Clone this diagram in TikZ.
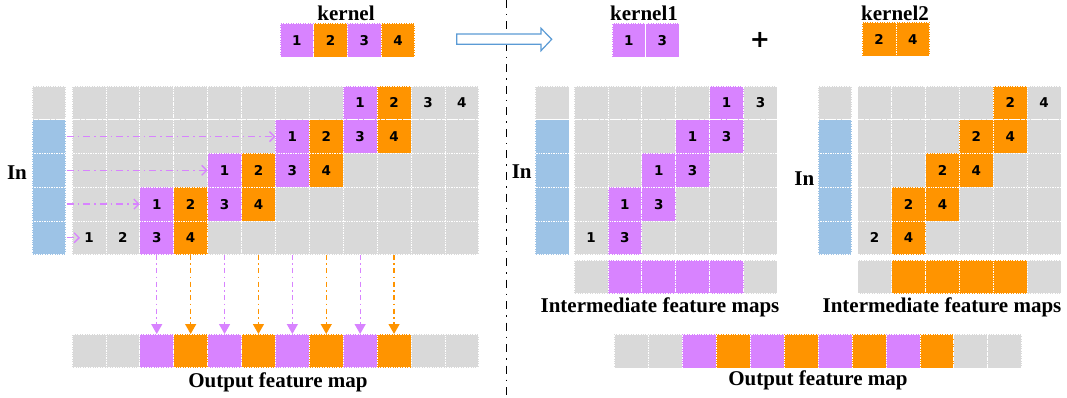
\documentclass[tikz,border=0pt]{standalone}
\usepackage{fontspec}
\setmainfont{Liberation Serif}
\newfontfamily\digitfont{DejaVu Sans}
\usetikzlibrary{arrows.meta}
\definecolor{pur}{HTML}{D883FF}
\definecolor{org}{HTML}{FF9400}
\definecolor{gry}{HTML}{D9D9D9}
\definecolor{blu}{HTML}{9DC3E6}
\definecolor{arrblue}{HTML}{5B9BD5}
\begin{document}
\begin{tikzpicture}[x=1pt,y=-1pt,
  cell/.style={draw=white, densely dotted, line width=0.7pt, minimum width=33.9pt,
    minimum height=33.74pt, inner sep=0pt, outer sep=0pt, anchor=north west,
    font=\digitfont\bfseries\fontsize{13.5}{13.5}\selectfont},
  lab/.style={inner sep=0pt, font=\bfseries\fontsize{21}{21}\selectfont},
  harr/.style={draw=pur, line width=1.3pt, dash pattern=on 7pt off 4pt on 1.5pt off 4pt,
    -{Straight Barb[length=5pt,width=10pt]}},
  varr/.style={draw=#1, line width=1.3pt, dash pattern=on 5pt off 3.5pt on 1.5pt off 3.5pt,
    -{Triangle[length=10pt,width=11pt]}},
  sepline/.style={line width=1.5pt, dash pattern=on 8pt off 6pt on 1.5pt off 6pt},
  bigarrow/.style={draw=arrblue, line width=1.2pt, fill=white}
]
\useasboundingbox (0,0) rectangle (1067,398);

% ---------------- left panel ----------------
\node[lab] (kl) at (346,13) {kernel};
\foreach \j in {1,...,4}{
  \ifodd\j \def\cc{pur}\else\def\cc{org}\fi
  \node[cell, fill=\cc, minimum width=33.7pt] (KE-\j) at ({280+33.7*(\j-1)},23.3) {\j};
}
\node[lab] (inL) at (17,172.7) {In};
\foreach \r in {0,...,4}{
  \ifnum\r=0 \def\cc{gry}\else\def\cc{blu}\fi
  \node[cell, fill=\cc, minimum width=33.4pt] (B-\r) at (32.3,{86+33.74*\r}) {};
}
\foreach \r in {0,...,4}{
  \foreach \k in {0,...,11}{
    \pgfmathtruncatemacro{\j}{\k-8+2*\r+1}
    \def\cc{gry}\def\lbl{}
    \ifnum\j>0 \ifnum\j<5 \edef\lbl{\j}
      \ifnum\k>1 \ifnum\k<10 \ifodd\j \def\cc{pur}\else\def\cc{org}\fi\fi\fi
    \fi\fi
    \node[cell, fill=\cc] (L-\r-\k) at ({72+33.9*\k},{86+33.74*\r}) {\lbl};
  }
}
\foreach \k in {0,...,11}{
  \def\cc{gry}
  \ifnum\k>1 \ifnum\k<10 \ifodd\k \def\cc{org}\else\def\cc{pur}\fi\fi\fi
  \node[cell, fill=\cc] (O-\k) at ({72+33.9*\k},334) {};
}
\node[lab] (outL) at (278,382.7) {Output feature map};

% horizontal arrows
\draw[harr] ([xshift=1pt]B-1.east) -- (L-1-6.west);
\draw[harr] ([xshift=1pt]B-2.east) -- (L-2-4.west);
\draw[harr] ([xshift=1pt]B-3.east) -- (L-3-2.west);
\draw[harr] ([xshift=1pt]B-4.east) -- ([xshift=8pt]L-4-0.west);
% vertical arrows
\foreach \k in {2,...,9}{
  \ifodd\k \def\cc{org}\else\def\cc{pur}\fi
  \draw[varr=\cc] (L-4-\k.south) -- (O-\k.north);
}

% separator and hollow arrow
\coordinate (septop) at (506.7,0);
\coordinate (sepbot) at (506.7,398);
\draw[sepline] (septop) -- (sepbot);
\draw[bigarrow] (456.7,34) -- (541,34) -- (541,28.3) -- (551.7,39.3) -- (541,50.7)
  -- (541,44.3) -- (456.7,44.3) -- cycle;

% ---------------- right panel ----------------
\node[lab] (k1l) at (644,13) {kernel1};
\node[cell, fill=pur, minimum width=33.5pt] (K1-1) at (612,23.3) {1};
\node[cell, fill=pur, minimum width=33.5pt] (K1-2) at (645.5,23.3) {3};
\node[inner sep=0pt, font=\digitfont\bfseries\fontsize{24}{24}\selectfont] (plus) at (760,40) {+};
\node[lab] (k2l) at (895,13) {kernel2};
\node[cell, fill=org, minimum width=33.7pt] (K2-1) at (862.3,22.5) {2};
\node[cell, fill=org, minimum width=33.7pt] (K2-2) at (896,22.5) {4};

\node[lab] (in1) at (521.7,171.7) {In};
\node[lab] (in2) at (804.3,178.3) {In};
\foreach \r in {0,...,4}{
  \ifnum\r=0 \def\cc{gry}\else\def\cc{blu}\fi
  \node[cell, fill=\cc, minimum width=34pt] (BA-\r) at (535,{86+33.74*\r}) {};
  \node[cell, fill=\cc, minimum width=33.4pt] (BB-\r) at (818.3,{86+33.74*\r}) {};
}
\foreach \r in {0,...,4}{
  \foreach \k in {0,...,5}{
    \pgfmathtruncatemacro{\m}{\k-4+\r}
    \def\lbla{}\def\lblb{}
    \ifnum\m=0 \def\lbla{1}\def\lblb{2}\fi
    \ifnum\m=1 \def\lbla{3}\def\lblb{4}\fi
    \def\ca{gry}\def\cb{gry}
    \ifnum\m>-1 \ifnum\m<2 \ifnum\k>0 \ifnum\k<5 \def\ca{pur}\def\cb{org}\fi\fi\fi\fi
    \node[cell, fill=\ca] (RA-\r-\k) at ({574+33.9*\k},{86+33.74*\r}) {\lbla};
    \node[cell, fill=\cb] (RB-\r-\k) at ({857.7+33.9*\k},{86+33.74*\r}) {\lblb};
  }
}
\foreach \k in {0,...,5}{
  \def\ca{gry}\def\cb{gry}
  \ifnum\k>0 \ifnum\k<5 \def\ca{pur}\def\cb{org}\fi\fi
  \node[cell, fill=\ca] (IA-\k) at ({574+33.9*\k},260) {};
  \node[cell, fill=\cb] (IB-\k) at ({857.7+33.9*\k},260) {};
}
\node[lab] (ia) at (660,307.5) {Intermediate feature maps};
\node[lab] (ib) at (942,307.5) {Intermediate feature maps};
\foreach \k in {0,...,11}{
  \def\cc{gry}
  \ifnum\k>1 \ifnum\k<10 \ifodd\k \def\cc{org}\else\def\cc{pur}\fi\fi\fi
  \node[cell, fill=\cc, minimum width=33.95pt] (P-\k) at ({614.3+33.95*\k},334.3) {};
}
\node[lab] (outR) at (818,380.7) {Output feature map};
\end{tikzpicture}
\end{document}
